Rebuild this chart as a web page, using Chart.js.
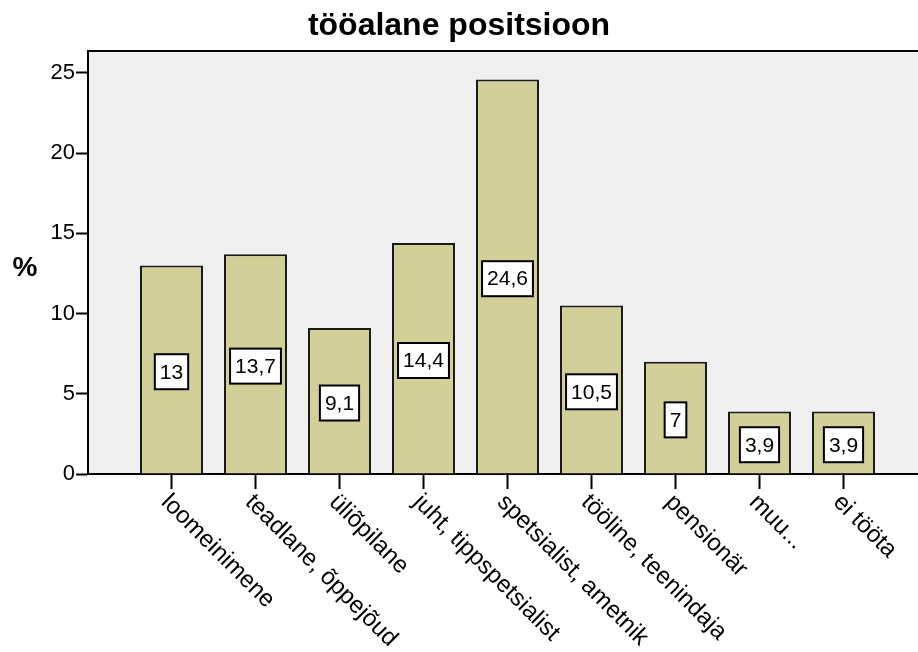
<!DOCTYPE html>
<html>
<head>
<meta charset="utf-8">
<script src="https://cdn.jsdelivr.net/npm/chart.js@4/dist/chart.umd.min.js"></script>
<style>
html,body{margin:0;padding:0;background:#fff;overflow:hidden;}
canvas{display:block;}
</style>
</head>
<body>
<canvas id="c" width="918" height="652"></canvas>
<script>
const categories = ["loomeinimene", "teadlane, õppejõud", "üliõpilane", "juht, tippspetsialist", "spetsialist, ametnik", "tööline, teenindaja", "pensionär", "muu...", "ei tööta"];
const percentValues = [13, 13.7, 9.1, 14.4, 24.6, 10.5, 7, 3.9, 3.9];
const yTickValues = [0, 5, 10, 15, 20, 25];
const chartTitle = "tööalane positsioon";
const yAxisTitle = "%";

const FONT = "'Liberation Sans', Arial, sans-serif";

const fmt = v => String(v).replace('.', ',');

const framePlugin = {
  id: 'frame',
  beforeDraw(chart) {
    const {ctx, chartArea: a} = chart;
    ctx.save();
    ctx.fillStyle = '#f0f0f0';
    ctx.fillRect(a.left, a.top, a.right - a.left, a.bottom - a.top);
    ctx.restore();
  },
  afterDraw(chart) {
    const {ctx, chartArea: a, scales} = chart;
    ctx.save();
    ctx.strokeStyle = '#000';
    ctx.lineWidth = 2;
    ctx.beginPath();
    ctx.moveTo(a.left - 1, a.top);
    ctx.lineTo(a.right, a.top);
    ctx.stroke();
    ctx.fillStyle = '#000';
    ctx.font = "bold 28px " + FONT;
    ctx.textAlign = 'center';
    ctx.textBaseline = 'middle';
    ctx.fillText(yAxisTitle, 25, 268);
    ctx.font = "24px " + FONT;
    ctx.textAlign = 'left';
    ctx.textBaseline = 'alphabetic';
    const xs = scales.x;
    categories.forEach((lab, i) => {
      const px = xs.getPixelForValue(i);
      ctx.save();
      ctx.translate(px, a.bottom + 15);
      ctx.rotate(Math.PI / 4);
      ctx.fillText(lab, 2, 18);
      ctx.restore();
    });
    ctx.restore();
  },
  afterDatasetsDraw(chart) {
    const {ctx, scales} = chart;
    const meta = chart.getDatasetMeta(0);
    ctx.save();
    ctx.font = "21px " + FONT;
    ctx.textAlign = 'center';
    ctx.textBaseline = 'middle';
    meta.data.forEach((bar, i) => {
      const v = percentValues[i];
      const txt = fmt(v);
      const tw = ctx.measureText(txt).width;
      const w = tw + 10, h = 35;
      const cx = bar.x;
      const cy = scales.y.getPixelForValue(v / 2) + 2;
      ctx.fillStyle = '#fff';
      ctx.fillRect(cx - w / 2, cy - h / 2, w, h);
      ctx.strokeStyle = '#000';
      ctx.lineWidth = 2;
      ctx.strokeRect(cx - w / 2, cy - h / 2, w, h);
      ctx.fillStyle = '#000';
      ctx.fillText(txt, cx, cy + 1);
    });
    ctx.restore();
  }
};

new Chart(document.getElementById('c'), {
  type: 'bar',
  data: {
    labels: categories,
    datasets: [{
      data: percentValues.map((v, i) => ({x: i, y: v})),
      backgroundColor: '#d3cf98',
      borderColor: '#1a1a1a',
      borderWidth: 2,
      borderSkipped: 'bottom',
      barPercentage: 0.75,
      categoryPercentage: 1.0
    }]
  },
  options: {
    responsive: false,
    animation: false,
    layout: {padding: 0},
    plugins: {
      legend: {display: false},
      tooltip: {enabled: false},
      title: {
        display: true,
        text: chartTitle,
        color: '#000',
        font: {family: FONT, size: 32, weight: 'bold', lineHeight: 1.2},
        padding: {top: 7, bottom: 5.6}
      }
    },
    scales: {
      x: {
        type: 'linear',
        offset: false,
        min: -0.994,
        max: 8.887,
        afterBuildTicks: s => { s.ticks = categories.map((_, i) => ({value: i})); },
        afterFit: s => { s.height = 178; },
        ticks: {display: false},
        grid: {offset: false, drawOnChartArea: false, drawTicks: true, tickLength: 15, tickWidth: 2, tickColor: '#000'},
        border: {display: true, color: '#000', width: 2}
      },
      y: {
        min: 0,
        max: 26.37,
        afterBuildTicks: s => { s.ticks = yTickValues.map(v => ({value: v})); },
        afterFit: s => { s.width = 88; },
        ticks: {color: '#000', font: {family: FONT, size: 22}, padding: 1},
        grid: {drawOnChartArea: false, drawTicks: true, tickLength: 12, tickWidth: 2, tickColor: '#000'},
        border: {display: true, color: '#000', width: 2}
      }
    }
  },
  plugins: [framePlugin]
});
</script>
</body>
</html>
